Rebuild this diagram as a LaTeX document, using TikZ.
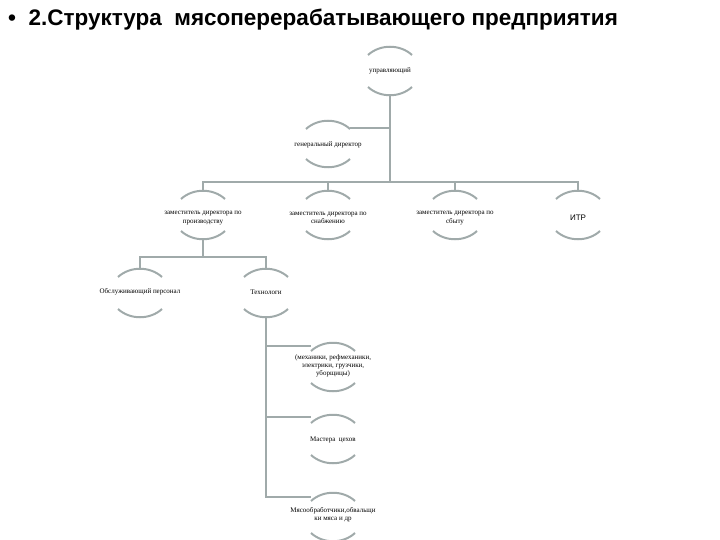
\documentclass[tikz,border=0pt]{standalone}
\usepackage{fontspec}
\setmainfont{Liberation Serif}
\newfontfamily\titlefont{Liberation Sans}
\definecolor{lin}{HTML}{A0AAAA}
\newcommand{\orgbox}[6]{% name, x, top, bottom, texty, text
  \coordinate (#1t) at (#2,#3);
  \coordinate (#1b) at (#2,#4);
  \draw[arc] ($(#1t)+(-22,9)$) .. controls ($(#1t)+(-10,-2)$) and ($(#1t)+(10,-2)$) .. ($(#1t)+(22,9)$);
  \draw[arc] ($(#1b)+(-22,-9)$) .. controls ($(#1b)+(-10,2)$) and ($(#1b)+(10,2)$) .. ($(#1b)+(22,-9)$);
  \node[lbl] (#1) at (#2,#5) {#6};
}
\usetikzlibrary{calc}
\begin{document}
\begin{tikzpicture}[x=1pt,y=-1pt,
  arc/.style={draw=lin,line width=2pt},
  conn/.style={draw=lin,line width=1.6pt},
  lbl/.style={font=\fontsize{7}{8.3}\selectfont,align=center,inner sep=0pt}]
\useasboundingbox (0,0) rectangle (720,540);
\node[anchor=west,font=\titlefont\bfseries\fontsize{22.5}{26}\selectfont,inner sep=0pt] (title) at (8,20) {•\ \ 2.Структура\ \ мясоперерабатывающего предприятия};
\orgbox{u}{390}{46}{96}{71}{управляющий}
\orgbox{g}{328}{120}{168}{145}{генеральный директор}
\orgbox{p}{203}{190}{240}{218}{заместитель директора по\\производству}
\orgbox{s}{328}{190}{240}{218}{заместитель директора по\\снабжению}
\orgbox{b}{455}{190}{240}{218}{заместитель директора по\\сбыту}
\orgbox{i}{578}{190}{240}{218}{\titlefont\fontsize{8}{9}\selectfont ИТР}
\orgbox{o}{140}{268}{318}{292}{Обслуживающий персонал}
\orgbox{t}{266}{268}{318}{292}{Технологи}
\orgbox{m}{333}{342}{392}{366}{(механики, рефмеханики,\\электрики, грузчики,\\уборщицы)}
\orgbox{c}{333}{414}{464}{440}{Мастера\ \ цехов}
\orgbox{w}{333}{492}{542}{515}{Мясообработчики,обвальщи\\ки мяса и др}
\draw[conn] (ub) -- (390,182);
\draw[conn] ($(gt)+(22,8)$) -- (390,128);
\draw[conn] (pt) -- (203,182) -- (578,182) -- (it);
\draw[conn] (st) -- (328,182);
\draw[conn] (bt) -- (455,182);
\draw[conn] (pb) -- (203,257);
\draw[conn] (ot) -- (140,257) -- (266,257) -- (tt);
\draw[conn] (tb) -- (266,497) -- ($(wt)+(-22,5)$);
\draw[conn] (266,346) -- ($(mt)+(-22,4)$);
\draw[conn] (266,417) -- ($(ct)+(-22,3)$);
\end{tikzpicture}
\end{document}
